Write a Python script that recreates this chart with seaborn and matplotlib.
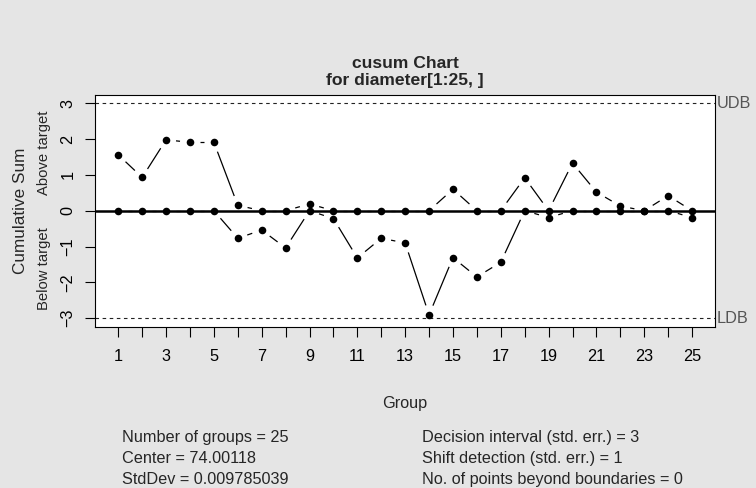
import numpy as np
import pandas as pd
import matplotlib
matplotlib.use("Agg")
import matplotlib.pyplot as plt
import matplotlib.transforms as mtransforms
import seaborn as sns

# CUSUM statistics per group (standard-error units)
groups = list(range(1, 26))
cusum_pos = [1.56, 0.93, 1.98, 1.91, 1.91, 0.15, 0.0, 0.0, 0.19, 0.0,
             0.0, 0.0, 0.0, 0.0, 0.60, 0.0, 0.0, 0.92, 0.0, 1.33,
             0.52, 0.13, 0.0, 0.42, 0.0]
cusum_neg = [0.0, 0.0, 0.0, 0.0, 0.0, -0.77, -0.54, -1.04, 0.0, -0.22,
             -1.32, -0.77, -0.90, -2.91, -1.31, -1.85, -1.44, 0.0, -0.19, 0.0,
             0.0, 0.0, 0.0, 0.0, -0.19]
decision_interval = 3
y_ticks = [-3, -2, -1, 0, 1, 2, 3]
x_tick_labels = [str(g) if g % 2 == 1 else "" for g in groups]
boundary_labels = ["UDB", "LDB"]
title_lines = ["cusum Chart", "for diameter[1:25, ]"]
stats_left = ["Number of groups = 25", "Center = 74.00118", "StdDev = 0.009785039"]
stats_right = ["Decision interval (std. err.) = 3",
               "Shift detection (std. err.) = 1",
               "No. of points beyond boundaries = 0"]

W, H, DPI = 756, 488, 100
BG = "#e5e5e5"
BASE = 11.7   # pt
TITLE = 12.6  # pt

sns.set_style("white", rc={"axes.facecolor": "white", "figure.facecolor": BG})
plt.rcParams["font.family"] = ["Liberation Sans", "DejaVu Sans"]

fig = plt.figure(figsize=(W / DPI, H / DPI), dpi=DPI, facecolor=BG)
L, R, T, B = 95.3, 715.0, 94.7, 326.7
ax = fig.add_axes([L / W, 1 - B / H, (R - L) / W, (B - T) / H])
ax.set_xlim(0.04, 25.96)
ax.set_ylim(-3.24, 3.24)

for s in ax.spines.values():
    s.set_color("black")
    s.set_linewidth(0.8)

# decision boundaries and center line
for lvl in (decision_interval, -decision_interval):
    ax.axhline(lvl, color="#222222", lw=0.8, ls=(0, (3.2, 3.2)), zorder=1)
ax.axhline(0, color="black", lw=1.8, zorder=2)

# lines with gaps around the points (R type = "b")
def gapped(xs, ys, gap_px=10.0):
    pts = ax.transData.transform(np.column_stack([xs, ys]))
    inv = ax.transData.inverted()
    for p0, p1 in zip(pts[:-1], pts[1:]):
        d = p1 - p0
        n = np.hypot(*d)
        if n <= 2 * gap_px:
            continue
        u = d / n
        a = inv.transform(p0 + u * gap_px)
        b = inv.transform(p1 - u * gap_px)
        ax.plot([a[0], b[0]], [a[1], b[1]], color="black", lw=0.9,
                solid_capstyle="butt", zorder=3)

gapped(groups, cusum_pos)
gapped(groups, cusum_neg)

df = pd.DataFrame({
    "group": groups * 2,
    "cusum": cusum_pos + cusum_neg,
    "side": ["above"] * len(groups) + ["below"] * len(groups),
})
sns.scatterplot(data=df, x="group", y="cusum", color="black", s=30,
                linewidth=0, ax=ax, zorder=4, legend=False)
ax.set_xlim(0.04, 25.96)
ax.set_ylim(-3.24, 3.24)
ax.set_xlabel("")
ax.set_ylabel("")

ax.set_xticks(groups)
ax.set_xticklabels(x_tick_labels)
ax.set_yticks(y_ticks)
ax.set_yticklabels([str(v).replace("-", "\u2212") for v in y_ticks],
                   rotation=90, va="center")
ax.tick_params(axis="both", which="both", direction="out", length=7.2,
               width=0.8, color="black", labelsize=BASE, labelcolor="black")
ax.tick_params(axis="x", pad=8.5)
ax.tick_params(axis="y", pad=7)
ax.tick_params(left=True, bottom=True)

# boundary labels on the right
tr = mtransforms.blended_transform_factory(ax.transAxes, ax.transData)
for lab, lvl in zip(boundary_labels, (decision_interval, -decision_interval)):
    ax.text(1.003, lvl, lab, transform=tr, ha="left", va="center",
            fontsize=BASE, color="#555555", clip_on=False)

def fx(px):
    return px / W

def fy(py):
    return 1 - py / H

# titles
fig.text(fx(405), fy(63), title_lines[0], ha="center", va="center",
         fontsize=TITLE, fontweight="bold")
fig.text(fx(405), fy(81), title_lines[1], ha="center", va="center",
         fontsize=TITLE, fontweight="bold")

# y-axis annotations
fig.text(fx(21), fy(211), "Cumulative Sum", rotation=90, ha="center",
         va="center", fontsize=12.3)
ty = mtransforms.blended_transform_factory(fig.transFigure, ax.transData)
fig.text(fx(44), 1.62, "Above target", rotation=90, ha="center", va="center",
         fontsize=10.7, transform=ty)
fig.text(fx(44), -1.62, "Below target", rotation=90, ha="center", va="center",
         fontsize=10.7, transform=ty)

fig.text(fx(405), fy(408), "Group", ha="center", va="baseline", fontsize=BASE)

for i, (a, b) in enumerate(zip(stats_left, stats_right)):
    yb = [441.7, 462.7, 484.3][i]
    fig.text(fx(121.7), fy(yb), a, ha="left", va="baseline", fontsize=BASE)
    fig.text(fx(422.0), fy(yb), b, ha="left", va="baseline", fontsize=BASE)

fig.savefig("out.png", dpi=DPI, facecolor=BG)
